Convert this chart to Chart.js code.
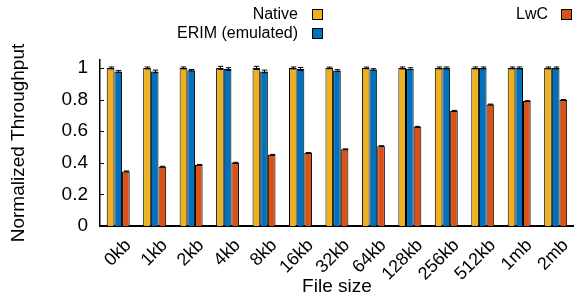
<!DOCTYPE html>
<html><head><meta charset="utf-8">
<script src="https://cdn.jsdelivr.net/npm/chart.js@4/dist/chart.umd.min.js"></script>
<style>
html,body{margin:0;padding:0;background:#fff;}
#wrap{position:relative;width:580px;height:301px;font-family:"Liberation Sans",Arial,sans-serif;}
canvas{position:absolute;left:0;top:0;}
.lg{position:absolute;font-size:16px;color:#000;white-space:nowrap;text-align:right;line-height:18px;}
.sw{position:absolute;width:9px;height:9px;border:1px solid #000;}
</style></head>
<body><div id="wrap">
<canvas id="c" width="580" height="301"></canvas>
<div class="lg" style="right:282px;top:5px;">Native</div><div class="sw" style="left:312px;top:9px;background:#EDB120"></div>
<div class="lg" style="right:282px;top:24px;">ERIM (emulated)</div><div class="sw" style="left:312px;top:28px;background:#0072BD"></div>
<div class="lg" style="right:32px;top:5px;">LwC</div><div class="sw" style="left:561px;top:9px;background:#D95319"></div>
</div>
<script>
const categories = ["0kb","1kb","2kb","4kb","8kb","16kb","32kb","64kb","128kb","256kb","512kb","1mb","2mb"];
const nativeVals = [1,1,1,1,1,1,1,1,1,1,1,1,1];
const nativeErr  = [0.006,0.006,0.006,0.01,0.01,0.006,0.005,0.005,0.006,0.006,0.006,0.006,0.006];
const erimVals   = [0.978,0.978,0.985,0.993,0.978,0.993,0.983,0.99,0.995,1.0,1.0,1.0,1.0];
const erimErr    = [0.006,0.008,0.005,0.008,0.008,0.01,0.006,0.005,0.006,0.006,0.006,0.006,0.006];
const lwcVals    = [0.345,0.375,0.386,0.40,0.45,0.462,0.485,0.505,0.627,0.728,0.768,0.79,0.797];
const lwcErr     = [0.003,0.003,0.003,0.003,0.003,0.003,0.003,0.003,0.003,0.003,0.003,0.003,0.003];
const yTicks = [0,0.2,0.4,0.6,0.8,1];

const FONT = '"Liberation Sans", Arial, sans-serif';
const errs = [nativeErr, erimErr, lwcErr];
const errorBars = {
  id:'errorBars',
  afterDatasetsDraw(chart){
    const ctx = chart.ctx, y = chart.scales.y;
    ctx.save();
    ctx.strokeStyle = '#000'; ctx.lineWidth = 1;
    chart.data.datasets.forEach((ds, di) => {
      const meta = chart.getDatasetMeta(di);
      meta.data.forEach((bar, i) => {
        const v = ds.data[i], e = errs[di][i];
        const x = Math.round(bar.x) + 0.5;
        const y1 = y.getPixelForValue(v - e), y2 = y.getPixelForValue(v + e);
        const hw = bar.width * 0.35;
        ctx.beginPath();
        ctx.moveTo(x, y1); ctx.lineTo(x, y2);
        ctx.moveTo(x - hw, y1); ctx.lineTo(x + hw, y1);
        ctx.moveTo(x - hw, y2); ctx.lineTo(x + hw, y2);
        ctx.stroke();
      });
    });
    // inward y ticks
    const left = chart.chartArea.left;
    ctx.beginPath();
    y.ticks.forEach(t => {
      const py = Math.round(y.getPixelForValue(t.value)) + 0.5;
      ctx.moveTo(left, py); ctx.lineTo(left + 4, py);
    });
    ctx.stroke();
    ctx.restore();
  }
};

new Chart(document.getElementById('c'), {
  type: 'bar',
  data: {
    labels: categories,
    datasets: [
      {label:'Native', data: nativeVals, backgroundColor:'#EDB120', borderColor:'#000', borderWidth:1},
      {label:'ERIM (emulated)', data: erimVals, backgroundColor:'#0072BD', borderColor:'#000', borderWidth:1},
      {label:'LwC', data: lwcVals, backgroundColor:'#D95319', borderColor:'#000', borderWidth:1}
    ]
  },
  options: {
    responsive:false, animation:false,
    layout:{padding:{left:7,right:2,top:60,bottom:3}},
    plugins:{legend:{display:false}, tooltip:{enabled:false}},
    datasets:{bar:{categoryPercentage:0.63, barPercentage:1.0}},
    scales:{
      x:{
        grid:{display:false, drawTicks:false},
        border:{display:true,color:'#000',width:2},
        ticks:{color:'#000', font:{family:FONT, size:18}, maxRotation:45, minRotation:45, padding:9, labelOffset:10, autoSkip:false},
        title:{display:true, text:'File size', color:'#000', font:{family:FONT, size:19}, padding:0},
        afterFit(s){ s.height = 72; }
      },
      y:{
        min:0, max:1.05,
        grid:{display:false, drawTicks:false},
        border:{display:true,color:'#000',width:1.5},
        ticks:{color:'#000', font:{family:FONT, size:19}, padding:12, callback:(v)=>String(v)},
        afterBuildTicks(s){ s.ticks = yTicks.map(v=>({value:v})); },
        title:{display:true, text:'Normalized Throughput', color:'#000', font:{family:FONT, size:19}, padding:0},
        afterFit(s){ s.width = 93; }
      }
    }
  },
  plugins:[errorBars]
});
</script>
</body></html>
